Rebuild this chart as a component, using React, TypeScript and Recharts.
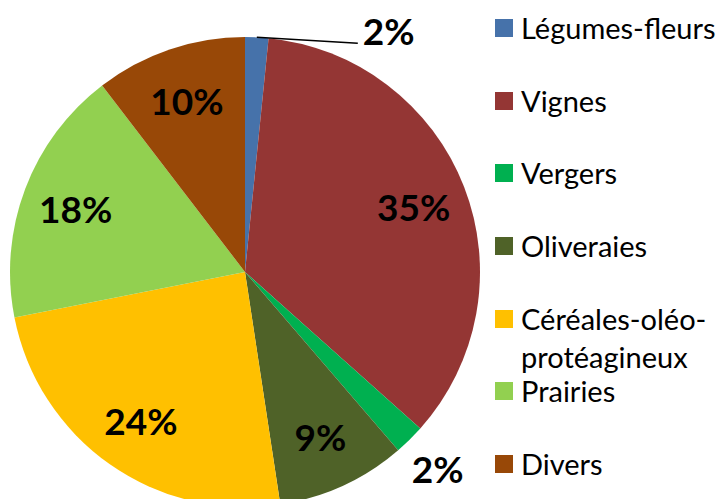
import React from 'react';
import { PieChart, Pie, Cell } from 'recharts';

const categories = [
  'Légumes-fleurs',
  'Vignes',
  'Vergers',
  'Oliveraies',
  'Céréales-oléo-protéagineux',
  'Prairies',
  'Divers',
];
const shares = [1.6, 35.0, 2.1, 8.9, 24.3, 17.7, 10.4];
const colors = ['#4672AA', '#943634', '#00B050', '#4F6228', '#FFC000', '#92D050', '#984807'];

const data = categories.map((name, i) => ({ name, value: shares[i] }));

const RADIAN = Math.PI / 180;
const labelFont = 'Lato, "Open Sans", sans-serif';

function renderLabel(props: any) {
  const { cx, cy, midAngle, outerRadius, percent, index } = props;
  const text = `${Math.round(percent * 100)}%`;
  const cos = Math.cos(-midAngle * RADIAN);
  const sin = Math.sin(-midAngle * RADIAN);
  const common = {
    fill: '#000',
    fontSize: 37,
    fontWeight: 700,
    fontFamily: labelFont,
    dominantBaseline: 'central' as const,
  };

  if (index === 0) {
    // small top slice: label pulled to the right with a leader line
    const sx = cx + outerRadius * cos;
    const sy = cy + outerRadius * sin;
    const ex = sx + 101;
    const ey = sy + 6;
    return (
      <g key={`lbl-${index}`}>
        <path d={`M${sx},${sy}L${ex},${ey}`} stroke="#000" strokeWidth={1.5} fill="none" />
        <text x={ex + 5} y={ey - 13} textAnchor="start" {...common}>
          {text}
        </text>
      </g>
    );
  }

  const r = percent < 0.05 ? outerRadius + 40 : outerRadius * 0.77;
  return (
    <text key={`lbl-${index}`} x={cx + r * cos} y={cy + r * sin} textAnchor="middle" {...common}>
      {text}
    </text>
  );
}

export default function App() {
  return (
    <div style={{ position: 'absolute', left: 0, top: 0, width: 719, height: 499, overflow: 'hidden', background: '#fff' }}>
      <PieChart width={719} height={499} margin={{ top: 0, right: 0, bottom: 0, left: 0 }}>
        <Pie
          data={data}
          dataKey="value"
          nameKey="name"
          cx={245}
          cy={272}
          outerRadius={235}
          startAngle={90}
          endAngle={-270}
          stroke="none"
          label={renderLabel}
          labelLine={false}
          isAnimationActive={false}
        >
          {data.map((d, i) => (
            <Cell key={d.name} fill={colors[i]} />
          ))}
        </Pie>
      </PieChart>
      <div style={{ position: 'absolute', left: 495, top: 9, width: 224, fontFamily: labelFont, fontSize: 29, color: '#000' }}>
        {data.map((d, i) => (
          <div key={d.name} style={{ position: 'relative', height: 72.7, lineHeight: '38px' }}>
            <span
              style={{ position: 'absolute', left: 0, top: 10, width: 18, height: 18, background: colors[i] }}
            />
            <div style={{ position: 'absolute', left: 26, top: 0, width: 198 }}>{d.name}</div>
          </div>
        ))}
      </div>
    </div>
  );
}
